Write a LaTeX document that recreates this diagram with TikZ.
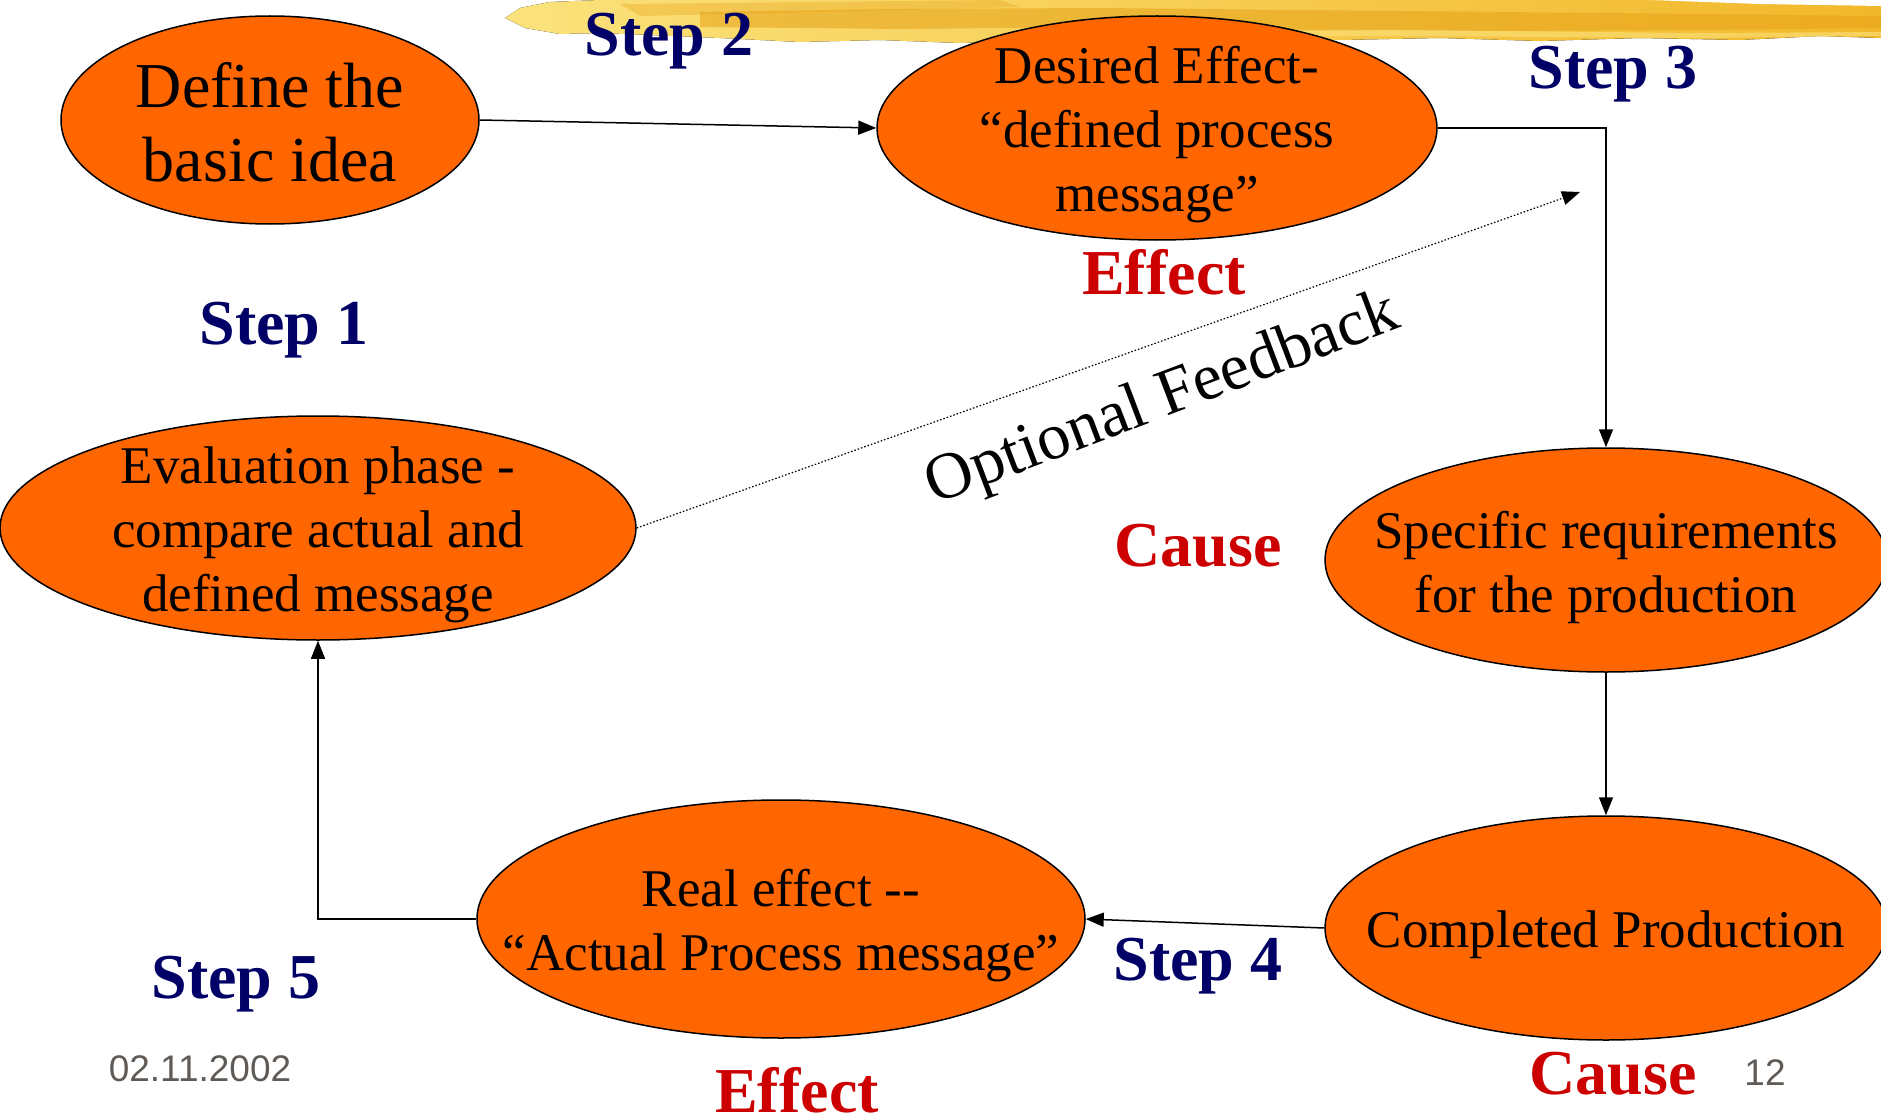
\documentclass[tikz,border=0pt]{standalone}
\usepackage{fontspec}
\setmainfont{Liberation Serif}
\newfontfamily\footfont{Liberation Sans}
\usetikzlibrary{arrows.meta,shapes.geometric}
\definecolor{cceOrange}{HTML}{FF6600}
\definecolor{cceNavy}{HTML}{000066}
\definecolor{cceRed}{HTML}{CC0000}
\definecolor{cceGrey}{HTML}{5F5A55}
\definecolor{cceGoldLight}{HTML}{FBE27C}
\definecolor{cceGold}{HTML}{F2B82A}
\definecolor{cceGoldDark}{HTML}{E6A218}

\begin{document}
\begin{tikzpicture}[x=0.5pt, y=-0.5pt,
  bubble/.style={ellipse, draw=black, line width=0.75pt, fill=cceOrange, inner sep=0pt},
  bubtext/.style={align=center, font=\fontsize{26.5}{32}\selectfont},
  steptext/.style={text=cceNavy, font=\fontsize{32}{38}\selectfont\bfseries},
  roletext/.style={text=cceRed, font=\fontsize{32}{38}\selectfont\bfseries},
  foottext/.style={text=cceGrey, font=\footfont\fontsize{18.5}{22}\selectfont},
  flow/.style={line width=0.75pt, -{Triangle[length=9pt,width=7pt]}}]
  \useasboundingbox (0,0) rectangle (1881,1113);
  % Bubble: name, centre, width, height, text (optional text options)
  \newcommand{\bubble}[6][]{\node[bubble, minimum width=#4, minimum height=#5] (#2) at (#3) {};
    \node[bubtext, #1] (#2-txt) at ([yshift=-3.5pt]#2.center) {#6};}
  % Brush stroke along the top edge
  \fill[left color=cceGoldLight, right color=cceGold]
    (505,18) -- (520,8) -- (550,2) -- (600,0) -- (1881,0)
    -- (1881,38) -- (1820,36) -- (1740,40) -- (1640,38) -- (1540,41) -- (1440,38) -- (1340,40)
    -- (1240,38) -- (1140,36) -- (1050,40) -- (960,43) -- (880,40) -- (800,42) -- (720,38)
    -- (650,35) -- (600,33) -- (560,34) -- (525,28) -- cycle;
  \fill[white]
    (1650,0) -- (1881,0) -- (1881,6) -- (1760,4) -- cycle;
  \fill[cceGoldDark, opacity=0.55]
    (700,12) -- (900,9) -- (1100,8) -- (1300,10) -- (1500,12) -- (1700,14) -- (1881,16)
    -- (1881,28) -- (1700,30) -- (1500,31) -- (1300,30) -- (1100,27) -- (900,29) -- (700,27) -- cycle;
  \fill[cceGoldDark, opacity=0.35]
    (620,4) -- (820,2) -- (1000,0) -- (1020,7) -- (820,12) -- (640,16) -- cycle;
  \fill[cceGoldLight, opacity=0.6]
    (1100,32) -- (1400,30) -- (1700,33) -- (1881,32) -- (1881,36) -- (1700,38) -- (1400,36) -- (1100,37) -- cycle;
  % Top row
  \bubble[font=\fontsize{32}{37}\selectfont, yshift=2.5pt]{idea}{270,120}{209pt}{104pt}{Define the\\basic idea}
  \bubble{desired}{1157,128}{280pt}{112pt}{Desired Effect-\\“defined process\\message”}
  % Middle row
  \bubble{eval}{318,528}{318pt}{112pt}{Evaluation phase -\\compare actual and\\defined message}
  \bubble{spec}{1606,560}{281pt}{112pt}{Specific requirements\\for the production}
  % Bottom row
  \bubble{real}{781,919}{304pt}{119pt}{Real effect -{}-\\“Actual Process message”}
  \bubble{done}{1606,928}{281pt}{112pt}{Completed Production}
  % Connectors
  \draw[flow] (idea.east) -- (desired.west);
  \draw[flow] (desired.east) -| (spec.north);
  \draw[flow] (spec.south) -- (done.north);
  \draw[flow] (done.west) -- (real.east);
  \draw[flow] (real.west) -| (eval.south);
  \coordinate (fbend) at (1580,192);
  \draw[flow, densely dotted, line width=0.6pt] (eval.east) -- (fbend);
  \node[rotate=20.8, font=\fontsize{33}{40}\selectfont] (fbtext) at (1163,401) {Optional Feedback};
  % Step labels
  \node[steptext] (step1) at (284,330) {Step 1};
  \node[steptext] (step2) at (669,41) {Step 2};
  \node[steptext] (step3) at (1613,74) {Step 3};
  \node[steptext] (step4) at (1198,966) {Step 4};
  \node[steptext] (step5) at (236,984) {Step 5};
  % Cause / effect labels
  \node[roletext] (effect1) at (1164,272) {Effect};
  \node[roletext] (cause1) at (1198,546) {Cause};
  \node[roletext] (effect2) at (797,1090) {Effect};
  \node[roletext] (cause2) at (1613,1074) {Cause};
  % Footer
  \node[foottext] (date) at (200,1069) {02.11.2002};
  \node[foottext] (pageno) at (1765,1073) {12};
\end{tikzpicture}
\end{document}
